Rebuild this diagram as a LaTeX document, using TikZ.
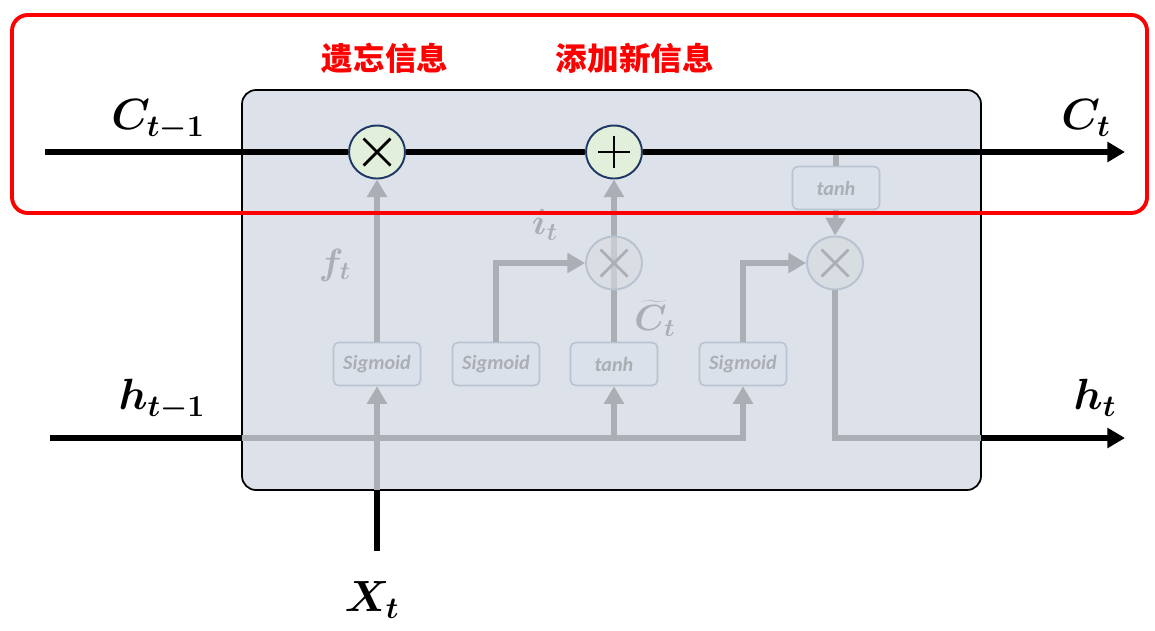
\documentclass[tikz,border=0pt]{standalone}
\usepackage{bm}
\usepackage{fontspec}
\setsansfont{Carlito}
\newfontfamily\cjk{Noto Sans CJK SC}
\usetikzlibrary{arrows.meta,positioning,shapes.geometric}
\definecolor{cellfill}{RGB}{221,225,233}
\definecolor{opgreen}{RGB}{226,239,218}
\definecolor{opnavy}{RGB}{31,56,100}
\definecolor{fadegray}{RGB}{171,174,181}
\definecolor{fadebox}{RGB}{219,225,234}
\definecolor{fadeedge}{RGB}{184,194,208}
\definecolor{fadeop}{RGB}{216,221,226}
\definecolor{alertred}{RGB}{255,0,0}

\begin{document}
\begin{tikzpicture}[x=0.02cm,y=-0.02cm,
  mainline/.style={line width=3.2pt,black},
  fadeline/.style={line width=2.9pt,fadegray},
  tip/.style={-{Triangle[length=10pt,width=11pt]}},
  gatebox/.style={draw=fadeedge,fill=fadebox,rounded corners=3pt,line width=0.9pt,
    minimum width=1.74cm,minimum height=0.86cm,text=fadegray,
    font=\sffamily\bfseries\itshape\fontsize{11.5}{13}\selectfont},
  opnode/.style={ellipse,line width=1.1pt,minimum width=1.12cm,minimum height=1.06cm},
  mulsign/.style={path picture={
    \draw[line width=1.6pt,#1]
      ([shift={(-0.27cm,-0.27cm)}]path picture bounding box.center) --
      ([shift={(0.27cm,0.27cm)}]path picture bounding box.center)
      ([shift={(-0.27cm,0.27cm)}]path picture bounding box.center) --
      ([shift={(0.27cm,-0.27cm)}]path picture bounding box.center);}},
  addsign/.style={path picture={
    \draw[line width=1.6pt,#1]
      ([shift={(-0.32cm,0cm)}]path picture bounding box.center) --
      ([shift={(0.32cm,0cm)}]path picture bounding box.center)
      ([shift={(0cm,-0.32cm)}]path picture bounding box.center) --
      ([shift={(0cm,0.32cm)}]path picture bounding box.center);}},
  biglabel/.style={inner sep=0pt,font=\fontsize{24}{28}\selectfont},
  fadelabel/.style={inner sep=0pt,text=fadegray,font=\fontsize{20}{24}\selectfont},
  redtitle/.style={text=alertred,font=\cjk\bfseries\fontsize{18}{22}\selectfont}]
  \useasboundingbox (0,0) rectangle (1155,630);

  % cell body
  \draw[fill=cellfill,line width=1pt,rounded corners=8pt] (242,90) rectangle (981,490);

  % gates
  \node[gatebox] (sigf) at (377,364) {Sigmoid};
  \node[gatebox] (sigi) at (496,364) {Sigmoid};
  \node[gatebox] (tanhc) at (614,364) {tanh};
  \node[gatebox] (sigo) at (743,364) {Sigmoid};
  \node[gatebox] (tanhh) at (836,188) {tanh};

  % ops on the cell state
  \node[opnode,draw=opnavy,fill=opgreen,mulsign=black] (forget) at (377,152) {};
  \node[opnode,draw=opnavy,fill=opgreen,addsign=black] (update) at (614,152) {};

  \coordinate (cin) at (45,152);
  \coordinate (cout) at (1125,152);
  \coordinate (ctap) at (836,152);
  \coordinate (hin) at (50,438);
  \coordinate (hleft) at (242,438);
  \coordinate (hright) at (981,438);
  \coordinate (hout) at (1125,438);
  \coordinate (xin) at (377,551);
  \coordinate (xedge) at (377,490);

  \draw[fadeline,tip] (tanhc.north) -- (update.south);
  \node[opnode,draw=fadeedge,fill=fadeop,fill opacity=0.6,mulsign=fadegray] (inmul) at (614,263) {};
  \node[opnode,draw=fadeedge,fill=fadeop,mulsign=fadegray] (outmul) at (835,263) {};

  \draw[fadeline] (ctap) -- (tanhh.north);
  \draw[fadeline,tip] (tanhh.south) -- (outmul.north);
  \draw[fadeline,tip] (sigf.north) -- (forget.south);
  \draw[fadeline,tip] (sigi.north) |- (inmul.west);
  \draw[fadeline,tip] (sigo.north) |- (outmul.west);
  \draw[fadeline,tip] (hleft) -| (sigo.south);
  \draw[fadeline,tip] (tanhc.south |- hleft) -- (tanhc.south);
  \draw[fadeline,tip] (xedge) -- (sigf.south);
  \draw[fadeline] (outmul.south) |- (hright);

  \draw[mainline] (cin) -- (forget.west);
  \draw[mainline] (forget.east) -- (update.west);
  \draw[mainline,tip] (update.east) -- (cout);
  \draw[mainline] (hin) -- (hleft);
  \draw[mainline,tip] (hright) -- (hout);
  \draw[mainline] (xin) -- (xedge);

  % labels
  \node[biglabel] (lcprev) at (158,120) {$\bm{C_{t-1}}$};
  \node[biglabel] (lcnext) at (1086,118) {$\bm{C_t}$};
  \node[biglabel] (lhprev) at (162,400) {$\bm{h_{t-1}}$};
  \node[biglabel] (lhnext) at (1095,398) {$\bm{h_t}$};
  \node[biglabel] (lx) at (372,600) {$\bm{X_t}$};
  \node[fadelabel] (lf) at (335,265) {$\bm{f_t}$};
  \node[fadelabel] (li) at (545,225) {$\bm{i_t}$};
  \node[fadelabel] (lc) at (655,318) {$\bm{\widetilde{C}_t}$};

  \node[redtitle] (tforget) at (385,58) {遗忘信息};
  \node[redtitle] (tadd) at (635,58) {添加新信息};

  \draw[alertred,line width=2.2pt,rounded corners=9pt] (12,15) rectangle (1147,213);
\end{tikzpicture}
\end{document}
